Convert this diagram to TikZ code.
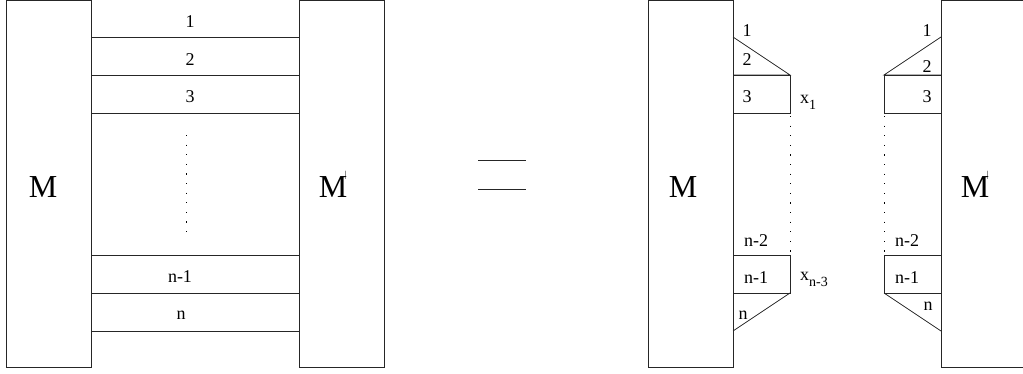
\documentclass[tikz,border=0pt]{standalone}
\usepackage{fontspec}
\setmainfont{Liberation Serif}
\newcommand{\mytick}{\kern-2.5pt\rlap{\raisebox{20pt}{\fontsize{9}{9}\selectfont |}}\kern2.5pt}
\begin{document}
\begin{tikzpicture}[x=1pt,y=-1pt,
  ln/.style={line width=0.8pt, draw=black!85},
  dotln/.style={line width=1pt, draw=black, dash pattern=on 1.2pt off 8.4pt},
  lbl/.style={inner sep=0pt, font=\fontsize{18}{18}\selectfont},
  big/.style={inner sep=0pt, anchor=base, font=\fontsize{32}{32}\selectfont},
  blk/.style={ln, rectangle, inner sep=0pt, minimum width=85pt, minimum height=367pt, anchor=north west}]
\useasboundingbox (0,0) rectangle (1023,373);
% ---------- left panel ----------
\node[blk] (LM) at (6,0) {};
\node[blk] (LMp) at (299,0) {};
\node[big] (tM) at (43,197) {M};
\node[big] (tMp) at (333,197) {M\mytick};
\foreach \y in {37,75,113,255,293,331}
  \draw[ln] (91,\y) -- (299,\y);
\draw[dotln] (186,135) -- (186,232);
\node[lbl] (l1) at (190,22) {1};
\node[lbl] (l2) at (190,60) {2};
\node[lbl] (l3) at (190,97) {3};
\node[lbl] (ln1) at (180,277) {n-1};
\node[lbl] (ln) at (181,315) {n};
% ---------- equals ----------
\draw[ln] (478,160) -- (526,160);
\draw[ln] (478,189) -- (526,189);
% ---------- right panel ----------
\node[blk] (RM) at (648,0) {};
\node[blk, minimum width=95pt] (RMp) at (941,0) {};
\node[big] (rM) at (683,197) {M};
\node[big] (rMp) at (975,197) {M\mytick};
% left half
\draw[ln] (733,37) -- (790,75) -- (733,75);
\draw[ln] (733,75) rectangle (790,113);
\draw[dotln] (790,116) -- (790,255);
\draw[ln] (733,255) rectangle (790,293);
\draw[ln] (790,293) -- (733,331);
\node[lbl] (a1) at (747,31) {1};
\node[lbl] (a2) at (747,60) {2};
\node[lbl] (a3) at (747,97) {3};
\node[lbl] (an2) at (756,241) {n-2};
\node[lbl] (an1) at (756,278) {n-1};
\node[lbl] (an) at (743,315) {n};
\node[lbl, anchor=west] (x1) at (800,102) {x\raisebox{-6pt}{\fontsize{14}{14}\selectfont 1}};
\node[lbl, anchor=west] (xn3) at (800,279) {x\raisebox{-6pt}{\fontsize{14}{14}\selectfont n-3}};
% right half
\draw[ln] (941,37) -- (884,75) -- (941,75);
\draw[ln] (884,75) rectangle (941,113);
\draw[dotln] (884,116) -- (884,255);
\draw[ln] (884,255) rectangle (941,293);
\draw[ln] (884,293) -- (941,331);
\node[lbl] (b1) at (927,31) {1};
\node[lbl] (b2) at (927,67) {2};
\node[lbl] (b3) at (927,97) {3};
\node[lbl] (bn2) at (907,241) {n-2};
\node[lbl] (bn1) at (907,278) {n-1};
\node[lbl] (bn) at (928,306) {n};
\end{tikzpicture}
\end{document}
